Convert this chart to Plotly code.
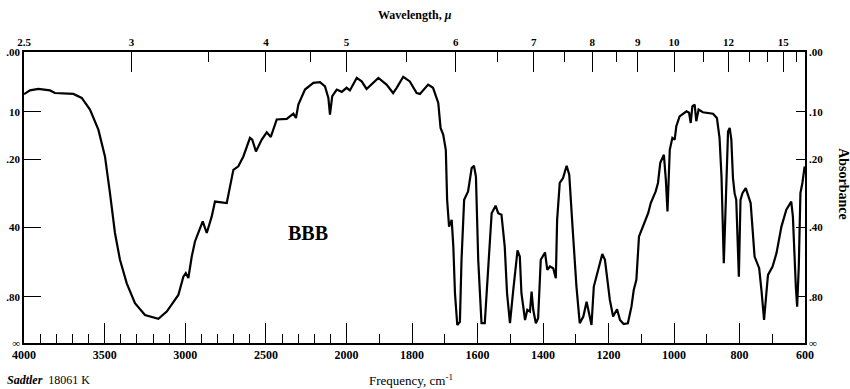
import plotly.graph_objects as go

# ---------------- data ----------------
wavenumber = [4000, 3963, 3911, 3839, 3808, 3694, 3642, 3591, 3539, 3498,
              3467, 3436, 3405, 3363, 3312, 3250, 3167, 3115, 3043, 3012,
              2997, 2981, 2960, 2940, 2892, 2867, 2836, 2816, 2743, 2723,
              2702, 2671, 2640, 2599, 2585, 2562, 2526, 2495, 2470, 2433,
              2371, 2330, 2314, 2299, 2258, 2206, 2165, 2134, 2113, 2103,
              2089, 2061, 2030, 2000, 1990, 1969, 1954, 1939, 1903, 1878,
              1858, 1847, 1827, 1807, 1786, 1776, 1751, 1736, 1720, 1713,
              1705, 1697, 1693, 1687, 1679, 1674, 1669, 1662, 1654, 1649,
              1641, 1629, 1618, 1611, 1605, 1598, 1588, 1578, 1568, 1557,
              1545, 1537, 1527, 1517, 1510, 1501, 1491, 1478, 1471, 1466,
              1455, 1448, 1440, 1435, 1430, 1422, 1415, 1407, 1394, 1387,
              1379, 1369, 1361, 1357, 1349, 1339, 1328, 1320, 1310, 1298,
              1288, 1277, 1267, 1259, 1252, 1245, 1232, 1219, 1211, 1196,
              1186, 1174, 1165, 1154, 1141, 1130, 1123, 1115, 1107, 1095,
              1079, 1071, 1056, 1049, 1042, 1031, 1025, 1020, 1013, 1005,
              998, 993, 983, 962, 954, 949, 944, 937, 932, 925,
              912, 881, 869, 861, 855, 848, 842, 835, 830, 825,
              820, 815, 810, 802, 797, 791, 781, 766, 754, 740,
              733, 725, 718, 713, 699, 687, 672, 657, 642, 637,
              628, 624, 619, 614, 608, 601]

transmittance = [85.5, 86.8, 87.3, 86.8, 85.9, 85.6, 84.2, 80.2, 73.3, 64.1,
                 51.5, 37.8, 28.6, 20.5, 13.7, 9.6, 8.3, 10.8, 16.5, 22.8,
                 24.0, 22.3, 29.7, 34.9, 41.8, 37.8, 43.5, 48.6, 48.1, 53.8,
                 59.5, 60.7, 64.1, 70.5, 69.9, 65.8, 69.9, 72.4, 70.8, 76.8,
                 77.0, 78.8, 77.3, 81.9, 87.1, 89.4, 89.6, 88.2, 84.2, 78.5,
                 84.8, 87.1, 86.3, 87.7, 86.8, 91.1, 89.9, 87.3, 91.1, 88.8,
                 85.9, 87.7, 91.5, 89.9, 85.9, 85.6, 88.8, 87.7, 82.5, 73.9,
                 71.6, 66.4, 49.2, 40.0, 42.3, 33.1, 17.1, 6.2, 7.3, 28.6,
                 49.2, 52.1, 60.1, 60.9, 57.2, 28.6, 6.8, 6.8, 24.0, 44.6,
                 47.2, 44.6, 44.1, 33.1, 17.1, 6.8, 18.2, 31.8, 29.7, 17.1,
                 7.9, 11.4, 10.8, 17.7, 11.4, 6.8, 8.5, 28.6, 31.1, 25.1,
                 26.3, 25.7, 22.3, 42.3, 55.0, 56.7, 60.9, 57.8, 40.0, 19.4,
                 6.8, 9.1, 14.2, 10.2, 6.2, 19.4, 25.1, 30.6, 28.6, 14.8,
                 9.1, 11.6, 7.9, 6.5, 6.8, 12.5, 18.2, 21.7, 36.6, 40.0,
                 44.6, 48.1, 52.1, 55.0, 61.9, 64.7, 56.1, 45.2, 66.4, 70.5,
                 69.9, 74.5, 77.9, 79.6, 79.1, 75.6, 81.3, 81.9, 76.2, 80.2,
                 79.3, 78.8, 77.3, 70.5, 57.2, 27.4, 51.5, 72.7, 73.9, 69.9,
                 56.7, 51.5, 49.2, 22.8, 49.2, 51.5, 53.2, 48.1, 29.7, 25.7,
                 18.2, 7.9, 17.1, 23.4, 26.3, 30.9, 40.0, 45.8, 48.6, 43.5,
                 19.4, 12.5, 26.3, 51.5, 55.0, 60.7]

freq_labels = [4000, 3500, 3000, 2500, 2000, 1800, 1600, 1400, 1200, 1000, 800, 600]
freq_minor = [3900, 3800, 3700, 3600, 3400, 3300, 3200, 3100, 2900, 2800, 2700, 2600,
              2400, 2300, 2200, 2100, 1900, 1700, 1500, 1300, 1100, 900, 700]
wl_labels = [2.5, 3, 4, 5, 6, 7, 8, 9, 10, 12, 15]
wl_label_text = ["2.5", "3", "4", "5", "6", "7", "8", "9", "10", "12", "15"]
wl_minor = [3.5, 4.5, 5.5, 6.5, 7.5, 8.5, 11, 13, 14, 16]
abs_ticks = [0.0, 0.1, 0.2, 0.4, 0.8]
abs_left_text = [".00", "10", ".20", "40", ".80", "∞"]
abs_right_text = [".00", ".10", ".20", ".40", ".80", "∞"]

# ---------------- chart scale (Sadtler: 2x expansion below 2000 cm-1) ----------------
K = 2.03


def pos(nu):
    return (4000 - nu) if nu >= 2000 else 2000 + K * (2000 - nu)


XMAX = pos(600)
xs = [pos(v) for v in wavenumber]
abs_tvals = [100 * 10 ** (-a) for a in abs_ticks] + [0]

SERIF = "Liberation Serif, Times New Roman, serif"
BOLD = dict(family=SERIF, size=12, color="black", weight="bold")

fig = go.Figure()
fig.add_trace(go.Scatter(x=xs, y=transmittance, mode="lines",
                         line=dict(color="black", width=2.2),
                         hoverinfo="skip", showlegend=False))
fig.add_trace(go.Scatter(x=xs, y=transmittance, mode="lines",
                         line=dict(color="rgba(0,0,0,0)", width=0),
                         xaxis="x2", yaxis="y2", hoverinfo="skip", showlegend=False))

axis_common = dict(showgrid=False, zeroline=False, showline=True, linecolor="black",
                   linewidth=1.6, ticks="inside", tickcolor="black", tickwidth=1.4,
                   automargin=False)

fig.update_layout(
    width=850, height=389,
    margin=dict(l=24, r=45, t=52, b=46),
    paper_bgcolor="white", plot_bgcolor="white",
    font=dict(family=SERIF, color="black"),
    xaxis=dict(range=[0, XMAX], tickmode="array",
               tickvals=[pos(v) for v in freq_labels],
               ticktext=[str(v) for v in freq_labels],
               ticklen=20, tickfont=BOLD,
               minor=dict(tickmode="array", tickvals=[pos(v) for v in freq_minor],
                          ticklen=9, ticks="inside", tickcolor="black", tickwidth=1.2),
               **axis_common),
    xaxis2=dict(range=[0, XMAX], overlaying="x", side="top", anchor="y",
                tickmode="array",
                tickvals=[pos(10000 / w) for w in wl_labels],
                ticktext=wl_label_text, ticklen=20,
                tickfont=dict(family=SERIF, size=11, color="black", weight="bold"),
                minor=dict(tickmode="array", tickvals=[pos(10000 / w) for w in wl_minor],
                           ticklen=10, ticks="inside", tickcolor="black", tickwidth=1.2),
                **axis_common),
    yaxis=dict(range=[0, 100], tickmode="array", tickvals=abs_tvals,
               ticktext=abs_left_text, ticklen=17,
               tickfont=dict(family=SERIF, size=11, color="black", weight="bold"),
               **axis_common),
    yaxis2=dict(range=[0, 100], overlaying="y", side="right", anchor="x",
                tickmode="array", tickvals=abs_tvals, ticktext=abs_right_text,
                ticklen=9,
                tickfont=dict(family=SERIF, size=11, color="black", weight="bold"),
                **axis_common),
    annotations=[
        dict(text="<b>Wavelength, <i>μ</i></b>", xref="paper", yref="paper", x=0.5, y=1.126,
             showarrow=False, font=dict(family=SERIF, size=12, color="black"),
             xanchor="center", yanchor="middle"),
        dict(text="Frequency, cm<sup>-1</sup>", xref="paper", yref="paper", x=0.495, y=-0.128,
             showarrow=False, font=dict(family=SERIF, size=13, color="black"),
             xanchor="center", yanchor="middle"),
        dict(text="<b><i>Sadtler</i></b>  18061 K", xref="paper", yref="paper", x=-0.024, y=-0.128,
             showarrow=False, font=dict(family=SERIF, size=12, color="black"),
             xanchor="left", yanchor="middle"),
        dict(text="<b>Absorbance</b>", xref="paper", yref="paper", x=1.049, y=0.545,
             showarrow=False, textangle=90, font=dict(family=SERIF, size=14, color="black"),
             xanchor="center", yanchor="middle"),
        dict(text="<b>BBB</b>", xref="paper", yref="paper", x=0.3636, y=0.379,
             showarrow=False, font=dict(family=SERIF, size=20, color="black"),
             xanchor="center", yanchor="middle"),
    ],
)

fig.write_html("out.html", config={"displayModeBar": False},
               post_script="document.body.style.margin='0';document.body.style.padding='0';")
